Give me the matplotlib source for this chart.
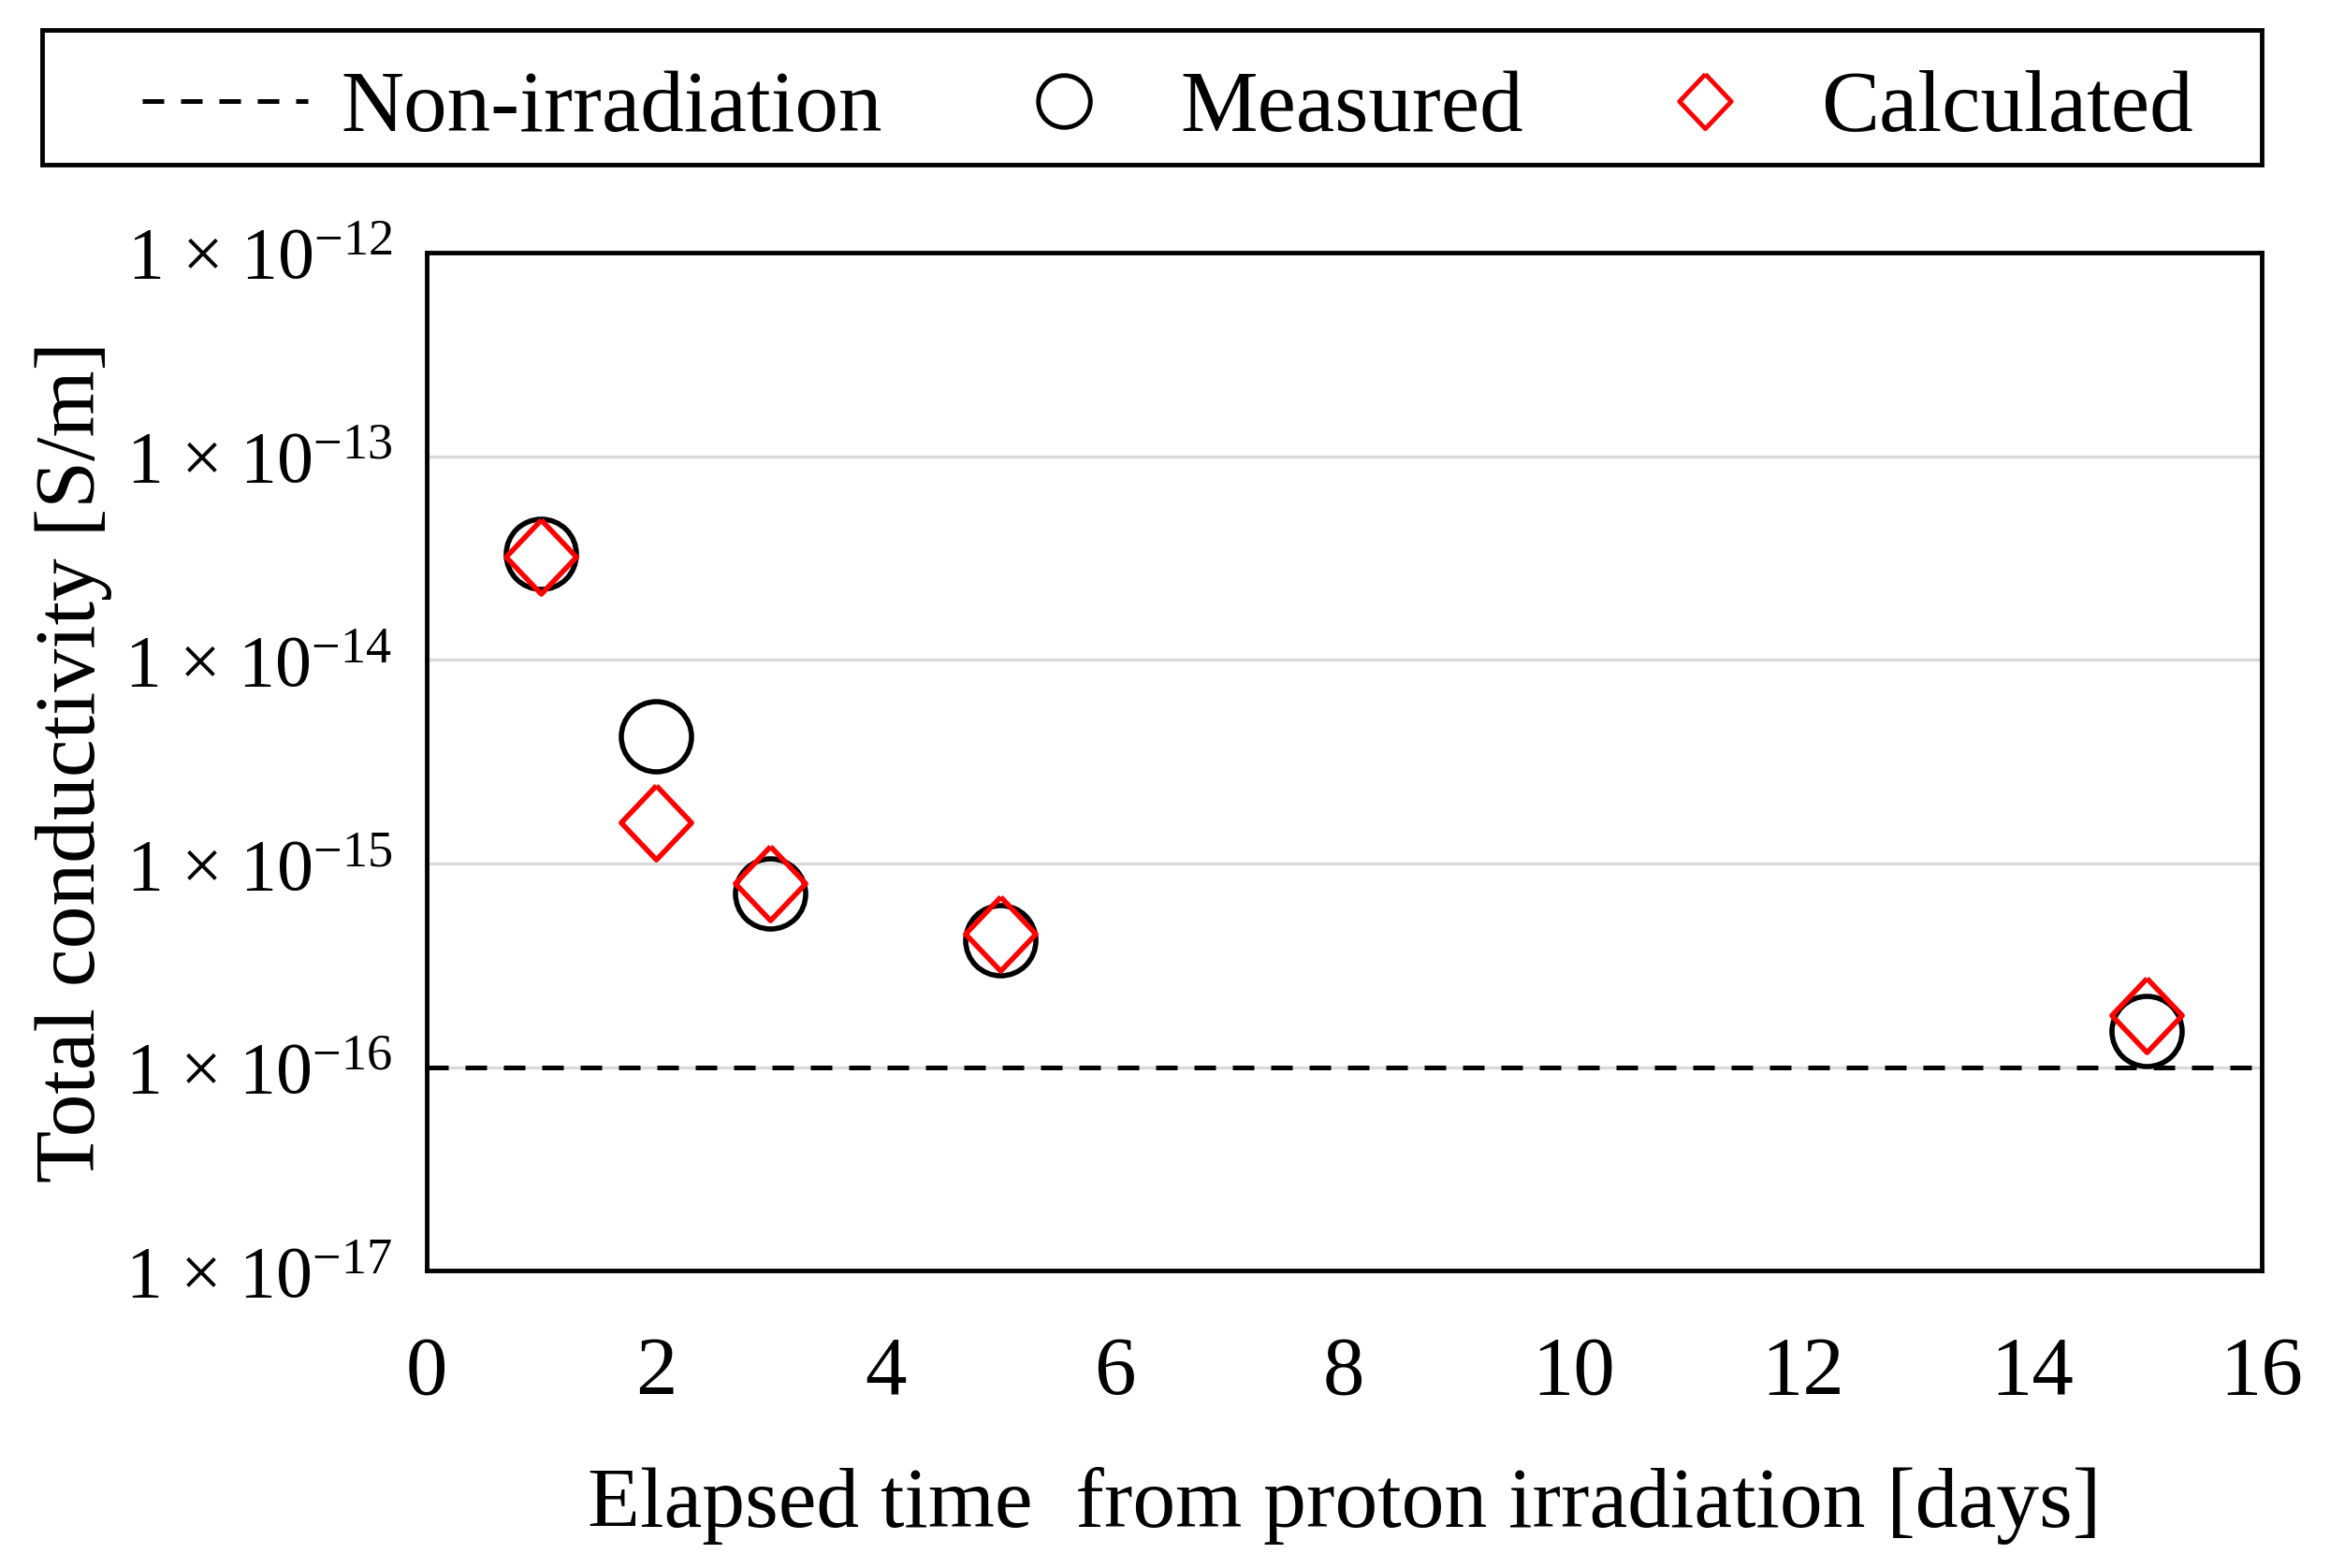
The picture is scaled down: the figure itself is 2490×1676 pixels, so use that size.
import matplotlib
matplotlib.use('Agg')
import matplotlib.pyplot as plt
from matplotlib.lines import Line2D
from matplotlib.patches import Rectangle

# data
days = [1, 2, 3, 5, 15]
measured = [3.3e-14, 4.2e-15, 7.1e-16, 4.2e-16, 1.5e-16]
calculated = [3.2e-14, 1.6e-15, 8.0e-16, 4.5e-16, 1.8e-16]
non_irradiation = 1e-16

x_ticks = [0, 2, 4, 6, 8, 10, 12, 14, 16]
y_ticks = [1e-17, 1e-16, 1e-15, 1e-14, 1e-13, 1e-12]
y_tick_labels = ['1 × 10$^{-17}$', '1 × 10$^{-16}$', '1 × 10$^{-15}$',
                 '1 × 10$^{-14}$', '1 × 10$^{-13}$', '1 × 10$^{-12}$']

plt.rcParams['font.family'] = ['Liberation Serif', 'DejaVu Serif']
plt.rcParams['mathtext.fontset'] = 'custom'
plt.rcParams['mathtext.rm'] = 'Liberation Serif'
plt.rcParams['mathtext.it'] = 'Liberation Serif:italic'

diamond = [(0, 1), (0.95, 0), (0, -1), (-0.95, 0), (0, 1)]
dash_pat = (4.6, 3.6)

fig = plt.figure(figsize=(24.9, 16.76), dpi=100)
ax = fig.add_axes([0.183, 0.1896, 0.7877, 0.6493])

ax.set_yscale('log')
ax.set_xlim(0, 16)
ax.set_ylim(1e-17, 1e-12)

ax.grid(axis='y', color='#d9d9d9', linewidth=2.4, zorder=0)
ax.set_axisbelow(True)

ax.axhline(non_irradiation, color='black', linewidth=3.6, dashes=dash_pat, zorder=2)
ax.plot(days, measured, linestyle='none', marker='o', markersize=54,
        markerfacecolor='none', markeredgecolor='black', markeredgewidth=4, zorder=3)
ax.plot(days, calculated, linestyle='none', marker=diamond, markersize=57,
        markerfacecolor='none', markeredgecolor='#ff0000', markeredgewidth=4, zorder=4)

ax.set_xticks(x_ticks)
ax.set_xticklabels([str(t) for t in x_ticks])
ax.set_yticks(y_ticks)
ax.set_yticklabels(y_tick_labels)
ax.minorticks_off()
ax.tick_params(axis='x', length=0, pad=50, labelsize=64)
ax.tick_params(axis='y', length=0, pad=26, labelsize=56)

for s in ax.spines.values():
    s.set_linewidth(3.5)
    s.set_color('black')

ax.set_xlabel('Elapsed time  from proton irradiation [days]', fontsize=66, labelpad=43)
ax.set_ylabel('Total conductivity [S/m]', fontsize=66, labelpad=10)

# legend box drawn as a figure rectangle, entries placed inside it
fig.patches.append(Rectangle((0.0179, 0.8948), 0.9528, 0.0862, transform=fig.transFigure,
                             fill=False, edgecolor='black', linewidth=3.5))

handles = [
    Line2D([], [], color='black', linewidth=3.6, dashes=dash_pat),
    Line2D([], [], linestyle='none', marker='o', markersize=40,
           markerfacecolor='none', markeredgecolor='black', markeredgewidth=3.5),
    Line2D([], [], linestyle='none', marker=diamond, markersize=42,
           markerfacecolor='none', markeredgecolor='#ff0000', markeredgewidth=3.5),
]
leg = fig.legend(handles, ['Non-irradiation', 'Measured', 'Calculated'],
                 loc='center', bbox_to_anchor=(0.5012, 0.9298),
                 ncol=3, fontsize=67, frameon=False,
                 handlelength=1.9, handletextpad=0.38, columnspacing=1.14,
                 borderpad=0, borderaxespad=0)

fig.savefig('out.png', dpi=100)
